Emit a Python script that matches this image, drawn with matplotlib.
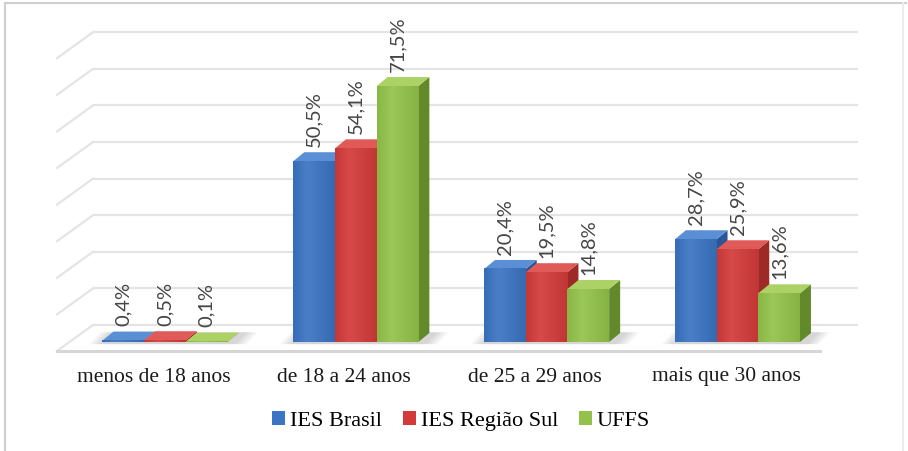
import numpy as np
import matplotlib.pyplot as plt
from matplotlib.patches import Polygon, Rectangle, Patch
from matplotlib.lines import Line2D
from matplotlib.colors import LinearSegmentedColormap, to_rgb

# faixa etaria dos ingressantes (%)
categorias = ['menos de 18 anos', 'de 18 a 24 anos', 'de 25 a 29 anos', 'mais que 30 anos']
ies_brasil = [0.4, 50.5, 20.4, 28.7]
ies_sul = [0.5, 54.1, 19.5, 25.9]
uffs = [0.1, 71.5, 14.8, 13.6]
nomes = ['IES Brasil', 'IES Região Sul', 'UFFS']
grade = [0, 10, 20, 30, 40, 50, 60, 70, 80]

series = [ies_brasil, ies_sul, uffs]
# (frente, topo, lateral)
cores = [('#3a74c2', '#5a8fd6', '#2a5596'),
         ('#d23b3a', '#e05a58', '#9e2a28'),
         ('#93c24a', '#acd266', '#62892a')]

W, H = 908, 451
fig = plt.figure(figsize=(W / 100, H / 100), dpi=100)
ax = fig.add_axes([0, 0, 1, 1])

# escala: 1 unidade x = distancia entre categorias, 1 unidade y = 1 %
px_x, px_y = 190.8, 3.58
x0_px, y0_px = 165, 342
xlim = (-x0_px / px_x, (W - x0_px) / px_x)
ylim = (-(H - y0_px) / px_y, y0_px / px_y)
ax.axis('off')

def ux(px):
    return (px - x0_px) / px_x

def uy(px):
    return (y0_px - px) / px_y

def clarear(cor, f):
    r = np.array(to_rgb(cor))
    return tuple(np.clip(r + (1 - r) * f, 0, 1)) if f > 0 else tuple(r * (1 + f))

# paredes: fundo e lateral esquerda
esc_fundo = 3.66 / px_y
xb_esq, xb_dir = ux(93), ux(858)
xf_esq, xf_dir = ux(57), ux(820)
prof_y = 26 / px_y
for v in grade:
    yb = uy(325) + v * esc_fundo
    ax.plot([xb_esq, xb_dir], [yb, yb], color='#e4e4e4', lw=1.6, zorder=1,
            solid_capstyle='butt')
    ax.plot([xf_esq, xb_esq], [yb - prof_y, yb], color='#e4e4e4', lw=1.6, zorder=1)
y_chao = uy(325) - prof_y
ax.plot([xf_esq, xf_dir], [y_chao, y_chao], color='#d6d6d6', lw=2.2, zorder=1)

w = 41.7 / px_x
dx, dy = 11 / px_x, 9 / px_y

# sombra suave sob cada grupo
for i in range(len(categorias)):
    esq = i - 1.5 * w
    for k in range(6):
        m = 0.012 * k
        sh = Polygon([(esq - 0.07 + m, -0.6), (esq + 3 * w + 0.10 - m, -0.6),
                      (esq + 3 * w + 0.10 + dx - m, dy + 0.2), (esq - 0.07 + dx + m, dy + 0.2)],
                     closed=True, facecolor='#808080', edgecolor='none', alpha=0.06, zorder=2)
        ax.add_patch(sh)

grad = np.linspace(0, 1, 64).reshape(1, -1)
for i in range(len(categorias)):
    for j, valores in enumerate(series):
        v = valores[i]
        frente, topo, lado = cores[j]
        xl = i - 1.5 * w + j * w
        z = 3 + j
        ax.add_patch(Polygon([(xl + w, 0), (xl + w + dx, dy), (xl + w + dx, v + dy), (xl + w, v)],
                             closed=True, facecolor=lado, edgecolor='none', zorder=z))
        ax.add_patch(Polygon([(xl, v), (xl + w, v), (xl + w + dx, v + dy), (xl + dx, v + dy)],
                             closed=True, facecolor=topo, edgecolor='none', zorder=z))
        cmap = LinearSegmentedColormap.from_list(
            'f', [(0, clarear(frente, -0.06)), (0.35, clarear(frente, 0.08)),
                  (1, clarear(frente, -0.08))])
        ax.imshow(grad, cmap=cmap, extent=(xl, xl + w, 0, v), aspect='auto',
                  interpolation='bilinear', zorder=z)
        rot = f'{v:.1f}%'.replace('.', ',')
        ax.text(xl + w / 2, v + 4.0, rot, rotation=90, ha='center', va='bottom',
                fontsize=14.5, family='Lato', color='#454545', zorder=10)

ax.set_xlim(*xlim)
ax.set_ylim(*ylim)

for i, c in enumerate(categorias):
    ax.text(i - 0.06, uy(377), c, ha='center', va='center', fontsize=15.5,
            family='Liberation Serif', color='#1a1a1a')

alcas = [Patch(facecolor=c[0], edgecolor='none') for c in cores]
fig.legend(alcas, nomes, loc='center', bbox_to_anchor=(461 / W, 1 - 421 / H), ncol=3,
           frameon=False, handlelength=0.6, handleheight=0.6, handletextpad=0.2,
           columnspacing=0.95, prop={'family': 'Liberation Serif', 'size': 16})

# moldura
for xs, ys, cor in [([5, 5], [3, 451], '#cfcfcf'), ([5, 906], [3, 3], '#cfcfcf'),
                    ([903, 903], [3, 451], '#ececec')]:
    fig.add_artist(Line2D([x / W for x in xs], [1 - y / H for y in ys], color=cor, lw=1.5))

fig.savefig('out.png', dpi=100)
